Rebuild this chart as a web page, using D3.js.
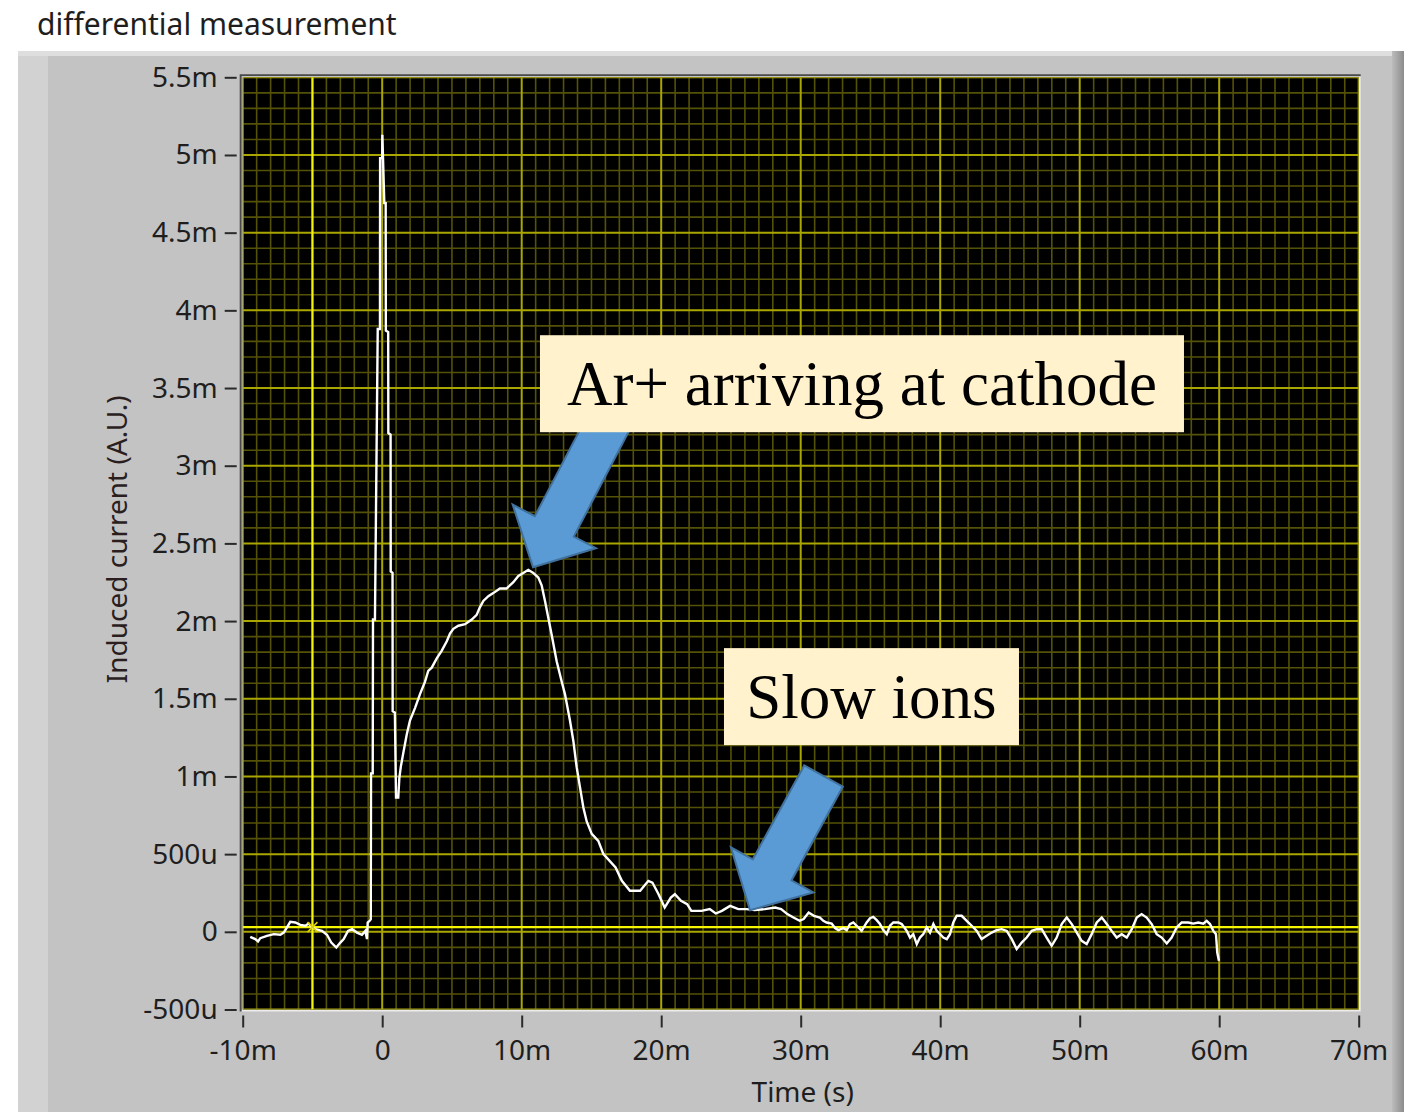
<!DOCTYPE html>
<html>
<head>
<meta charset="utf-8">
<script src="https://cdn.jsdelivr.net/npm/d3@7"></script>
<style>
  html, body { margin: 0; padding: 0; background: #ffffff; }
  svg { display: block; }
  .ui { font-family: "Segoe UI", "Noto Sans", "Open Sans", sans-serif; }
  .callout { font-family: "Times New Roman", "Liberation Serif", serif; }
</style>
</head>
<body>
<svg id="chart" width="1404" height="1112"></svg>
<script>
// ---- Axis ticks (time in ms, current in mA.U.) ----
const xTicks = [-10, 0, 10, 20, 30, 40, 50, 60, 70];
const xTickLabels = ["-10m", "0", "10m", "20m", "30m", "40m", "50m", "60m", "70m"];
const yTicks = [-0.5, 0, 0.5, 1, 1.5, 2, 2.5, 3, 3.5, 4, 4.5, 5, 5.5];
const yTickLabels = ["-500u", "0", "500u", "1m", "1.5m", "2m", "2.5m", "3m", "3.5m", "4m", "4.5m", "5m", "5.5m"];

// ---- Trace: [time (ms), induced current (mA.U.)] ----
const preTrigger = [
  [-9.46,-0.032],[-9.10,-0.047],[-8.90,-0.062],[-8.74,-0.041],[-8.26,-0.026],[-7.78,-0.015],
  [-7.30,-0.019],[-7.06,-0.005],[-6.90,0.017],[-6.59,0.064],[-6.23,0.060],[-5.87,0.045],
  [-5.51,0.039],[-5.27,0.053],[-5.03,0.028],[-4.80,0.017],[-4.32,0.006],[-3.96,-0.019],
  [-3.65,-0.069],[-3.29,-0.101],[-3.00,-0.069],[-2.76,-0.047],[-2.45,0.006],[-2.16,0.017],
  [-1.81,-0.005],[-1.45,-0.019],[-1.21,0.006],[-1.09,-0.047],[-1.04,0.060],[-0.90,0.071]
];
const electronSpike = [
  [-0.82,0.08],[-0.80,1.02],[-0.68,1.02],[-0.66,2.01],[-0.52,2.01],[-0.32,3.88],[-0.16,3.88],
  [-0.15,4.98],[0.00,4.98],[0.01,5.13],[0.15,4.69],[0.25,4.69],[0.26,3.87],[0.43,3.86],
  [0.44,3.21],[0.60,3.20],[0.61,2.32],[0.74,2.31],[0.75,1.42],[0.91,1.41],[0.99,0.864],[1.15,0.864]
];
const ionHump = [
  [1.23,0.99],[1.33,1.06],[1.51,1.15],[1.76,1.27],[1.99,1.36],[2.35,1.44],[2.71,1.53],[3.07,1.61],
  [3.30,1.68],[3.55,1.70],[3.91,1.76],[4.27,1.81],[4.63,1.87],[4.86,1.92],[5.10,1.95],[5.46,1.97],
  [5.94,1.98],[6.42,2.01],[6.77,2.04],[7.01,2.09],[7.25,2.13],[7.61,2.16],[7.96,2.18],[8.44,2.21],
  [8.92,2.21],[9.40,2.25],[9.76,2.29],[10.11,2.31],[10.47,2.33],[10.83,2.31],[11.19,2.28],
  [11.43,2.23],[11.67,2.13],[11.91,2.02],[12.15,1.91],[12.51,1.74],[12.87,1.61],[13.10,1.53],
  [13.46,1.36],[13.70,1.23],[13.94,1.06],[14.18,0.93],[14.42,0.80],[14.66,0.71],[15.02,0.63],
  [15.49,0.585]
];
const slowIonTail = [
  [15.86,0.50],[16.73,0.414],[17.18,0.328],[17.76,0.264],[18.49,0.264],[19.08,0.328],[19.37,0.317],
  [19.81,0.242],[20.25,0.156],[20.69,0.22],[20.98,0.242],[21.42,0.199],[21.86,0.178],[22.16,0.135],
  [22.89,0.135],[23.48,0.146],[23.91,0.118],[24.35,0.135],[24.94,0.167],[25.53,0.146],[26.11,0.146],
  [26.70,0.14],[27.43,0.146],[28.17,0.156],[28.60,0.146],[29.04,0.114],[29.48,0.092],[29.92,0.071],
  [30.21,0.082],[30.57,0.124],[30.95,0.103]
];
const baselineNoise = [
  [31.38,0.092],[31.62,0.071],[31.86,0.060],[32.22,0.053],[32.46,0.024],[32.70,0.011],[33.05,0.024],
  [33.30,0.011],[33.53,0.050],[33.77,0.060],[34.01,0.039],[34.37,0.006],[34.73,0.060],[34.97,0.088],
  [35.20,0.096],[35.45,0.075],[35.68,0.050],[35.92,0.011],[36.17,-0.015],[36.40,0.039],[36.64,0.060],
  [37.00,0.060],[37.24,0.050],[37.60,0.006],[37.84,-0.037],[38.07,-0.015],[38.32,-0.079],[38.55,-0.037],
  [38.79,-0.015],[39.03,0.028],[39.27,-0.005],[39.51,0.050],[39.75,0.006],[39.99,-0.015],[40.22,-0.037],
  [40.47,-0.047],[40.70,-0.015],[40.94,0.060],[41.18,0.103],[41.54,0.103],[41.90,0.071],[42.26,0.039],
  [42.62,0.006],[42.97,-0.047],[43.33,-0.026],[43.69,-0.005],[44.05,0.011],[44.41,0.017],[44.77,0.006],
  [45.13,-0.047],[45.48,-0.111],[45.84,-0.069],[46.20,-0.037],[46.56,0.006],[46.92,0.017],[47.28,0.017],
  [47.63,-0.037],[47.99,-0.090],[48.35,-0.037],[48.71,0.050],[49.07,0.092],[49.43,0.050],[49.79,-0.005],
  [50.14,-0.058],[50.50,-0.079],[50.86,-0.015],[51.22,0.060],[51.58,0.092],[51.94,0.050],[52.29,0.006],
  [52.65,-0.037],[53.01,-0.015],[53.37,-0.037],[53.73,0.017],[54.09,0.092],[54.44,0.114],[54.80,0.092],
  [55.16,0.050],[55.52,-0.015],[55.88,-0.037],[56.24,-0.075],[56.59,-0.037],[56.95,0.028],[57.31,0.060],
  [57.79,0.060],[58.14,0.053],[58.50,0.060],[58.86,0.053],[59.10,0.071],[59.34,0.050],[59.58,0.006],
  [59.77,-0.015],[59.86,-0.133],[59.98,-0.186]
];

// Graph cursor (time ms, current mA.U.)
const cursorPoint = [-5, 0.03];

// Callouts: tip of arrow in data units, box anchored at its top-left in data units
const callouts = [
  { text: "Ar+ arriving at cathode", boxT: 11.31, boxV: 3.84, boxW: 644, boxH: 97, tipT: 10.81, tipV: 2.347, angle: -62.4, len: 170 },
  { text: "Slow ions", boxT: 24.50, boxV: 1.826, boxW: 295, boxH: 97, tipT: 26.37, tipV: 0.139, angle: -61.3, len: 153 }
];

// ---- Layout ----
const W = 1404, H = 1112;
const plot = { left: 242.7, right: 1358.7, top: 77.3, bottom: 1009.5 };

const svg = d3.select("#chart");

const x = d3.scaleLinear().domain([-10, 70]).range([plot.left, plot.right]);
const y = d3.scaleLinear().domain([-0.5, 5.5]).range([plot.bottom, plot.top]);

// Panel background with bevel
const defs = svg.append("defs");
const edge = defs.append("linearGradient").attr("id", "rightEdge").attr("x1", 0).attr("x2", 1);
edge.append("stop").attr("offset", 0).attr("stop-color", "#bcbcbc");
edge.append("stop").attr("offset", 1).attr("stop-color", "#8c8c8c");

svg.append("rect").attr("x", 18).attr("y", 51).attr("width", W - 18).attr("height", H - 51).attr("fill", "#c3c3c3");
svg.append("rect").attr("x", 18).attr("y", 51).attr("width", 30).attr("height", H - 51).attr("fill", "#d2d2d2");
svg.append("rect").attr("x", 18).attr("y", 51).attr("width", W - 18).attr("height", 5).attr("fill", "#dedede");
svg.append("rect").attr("x", 1392).attr("y", 51).attr("width", 12).attr("height", H - 51).attr("fill", "url(#rightEdge)");

// Title
svg.append("text")
  .attr("class", "ui")
  .attr("x", 37).attr("y", 35)
  .attr("font-size", 30)
  .attr("fill", "#1e1e1e")
  .text("differential measurement");

// Plot frame (inset look)
svg.append("rect")
  .attr("x", plot.left - 2).attr("y", plot.top - 2)
  .attr("width", plot.right - plot.left + 4).attr("height", plot.bottom - plot.top + 4)
  .attr("fill", "#ececec");
svg.append("path")
  .attr("d", `M${plot.left - 2},${plot.bottom + 2}V${plot.top - 2}H${plot.right + 2}`)
  .attr("fill", "none").attr("stroke", "#4a4a4a").attr("stroke-width", 2);

svg.append("rect")
  .attr("x", plot.left).attr("y", plot.top)
  .attr("width", plot.right - plot.left).attr("height", plot.bottom - plot.top)
  .attr("fill", "#000000");

defs.append("clipPath").attr("id", "plotClip")
  .append("rect")
  .attr("x", plot.left).attr("y", plot.top)
  .attr("width", plot.right - plot.left).attr("height", plot.bottom - plot.top);

const g = svg.append("g").attr("clip-path", "url(#plotClip)");

// Minor grid
const xMinor = d3.range(-10, 70.001, 1).filter(v => !xTicks.includes(Math.round(v)));
const yMinor = d3.range(-5, 56, 1).map(v => v / 10).filter(v => !yTicks.some(t => Math.abs(t - v) < 1e-9));

g.append("g").selectAll("line").data(xMinor).join("line")
  .attr("x1", d => x(d)).attr("x2", d => x(d))
  .attr("y1", plot.top).attr("y2", plot.bottom)
  .attr("stroke", "#545206").attr("stroke-width", 1.6);
g.append("g").selectAll("line").data(yMinor).join("line")
  .attr("x1", plot.left).attr("x2", plot.right)
  .attr("y1", d => y(d)).attr("y2", d => y(d))
  .attr("stroke", "#545206").attr("stroke-width", 1.6);

// Major grid
g.append("g").selectAll("line").data(xTicks).join("line")
  .attr("x1", d => x(d)).attr("x2", d => x(d))
  .attr("y1", plot.top).attr("y2", plot.bottom)
  .attr("stroke", "#aaa600").attr("stroke-width", 2);
g.append("g").selectAll("line").data(yTicks).join("line")
  .attr("x1", plot.left).attr("x2", plot.right)
  .attr("y1", d => y(d)).attr("y2", d => y(d))
  .attr("stroke", "#aaa600").attr("stroke-width", 2);

// Cursor lines
g.append("line")
  .attr("x1", x(cursorPoint[0])).attr("x2", x(cursorPoint[0]))
  .attr("y1", plot.top).attr("y2", plot.bottom)
  .attr("stroke", "#f5f500").attr("stroke-width", 2.2);
g.append("line")
  .attr("x1", plot.left).attr("x2", plot.right)
  .attr("y1", y(cursorPoint[1])).attr("y2", y(cursorPoint[1]))
  .attr("stroke", "#f5f500").attr("stroke-width", 2.2);

// Trace
const trace = [].concat(preTrigger, electronSpike, ionHump, slowIonTail, baselineNoise);
const line = d3.line().x(d => x(d[0])).y(d => y(d[1]));
g.append("path")
  .datum(trace)
  .attr("d", line)
  .attr("fill", "none")
  .attr("stroke", "#ffffff")
  .attr("stroke-width", 2.4)
  .attr("stroke-linejoin", "miter");

// Cursor marker
const cx = x(cursorPoint[0]), cy = y(cursorPoint[1]);
g.append("path")
  .attr("d", `M${cx - 5},${cy - 5}L${cx + 5},${cy + 5}M${cx + 5},${cy - 5}L${cx - 5},${cy + 5}`)
  .attr("stroke", "#d8d000").attr("stroke-width", 1.6).attr("fill", "none");

// Axes
const yAxis = svg.append("g")
  .attr("transform", `translate(${plot.left - 6},0)`)
  .call(d3.axisLeft(y).tickValues(yTicks).tickFormat((d, i) => yTickLabels[i]).tickSize(12).tickPadding(7));
const xAxis = svg.append("g")
  .attr("transform", `translate(0,${plot.bottom + 6})`)
  .call(d3.axisBottom(x).tickValues(xTicks).tickFormat((d, i) => xTickLabels[i]).tickSize(12).tickPadding(13));

[yAxis, xAxis].forEach(ax => {
  ax.select(".domain").remove();
  ax.selectAll(".tick line").attr("stroke", "#2a2a2a").attr("stroke-width", 2);
  ax.selectAll(".tick text")
    .attr("class", "ui")
    .attr("fill", "#1e1e1e")
    .attr("font-size", 28);
});

// Axis titles
svg.append("text")
  .attr("class", "ui")
  .attr("x", (plot.left + plot.right) / 2 + 2).attr("y", 1102)
  .attr("text-anchor", "middle")
  .attr("font-size", 28)
  .attr("fill", "#1e1e1e")
  .text("Time (s)");
svg.append("text")
  .attr("class", "ui")
  .attr("transform", `translate(127,${(plot.top + plot.bottom) / 2 - 4}) rotate(-90)`)
  .attr("text-anchor", "middle")
  .attr("font-size", 28)
  .attr("fill", "#2a1e1e")
  .text("Induced current (A.U.)");

// Callouts: block arrow first, label box over its tail
callouts.forEach(c => {
  const tx = x(c.tipT), ty = y(c.tipV);
  const a = c.angle * Math.PI / 180;
  const u = [Math.cos(a), Math.sin(a)];      // tip -> tail
  const n = [-u[1], u[0]];                    // perpendicular
  const shaftHalf = 22, headHalf = 47, headLen = 46;
  const pt = (along, side) => [tx + u[0] * along + n[0] * side, ty + u[1] * along + n[1] * side];
  const pts = [
    pt(0, 0),
    pt(headLen, headHalf), pt(headLen, shaftHalf),
    pt(c.len, shaftHalf), pt(c.len, -shaftHalf),
    pt(headLen, -shaftHalf), pt(headLen, -headHalf)
  ];
  svg.append("polygon")
    .attr("points", pts.map(p => p.join(",")).join(" "))
    .attr("fill", "#5b9bd5")
    .attr("stroke", "#41719c")
    .attr("stroke-width", 2)
    .attr("stroke-linejoin", "miter");

  const bx = x(c.boxT), by = y(c.boxV);
  svg.append("rect")
    .attr("x", bx).attr("y", by)
    .attr("width", c.boxW).attr("height", c.boxH)
    .attr("fill", "#fff2cc");
  svg.append("text")
    .attr("class", "callout")
    .attr("x", bx + c.boxW / 2).attr("y", by + 70)
    .attr("text-anchor", "middle")
    .attr("font-size", 63)
    .attr("fill", "#000000")
    .text(c.text);
});
</script>
</body>
</html>
